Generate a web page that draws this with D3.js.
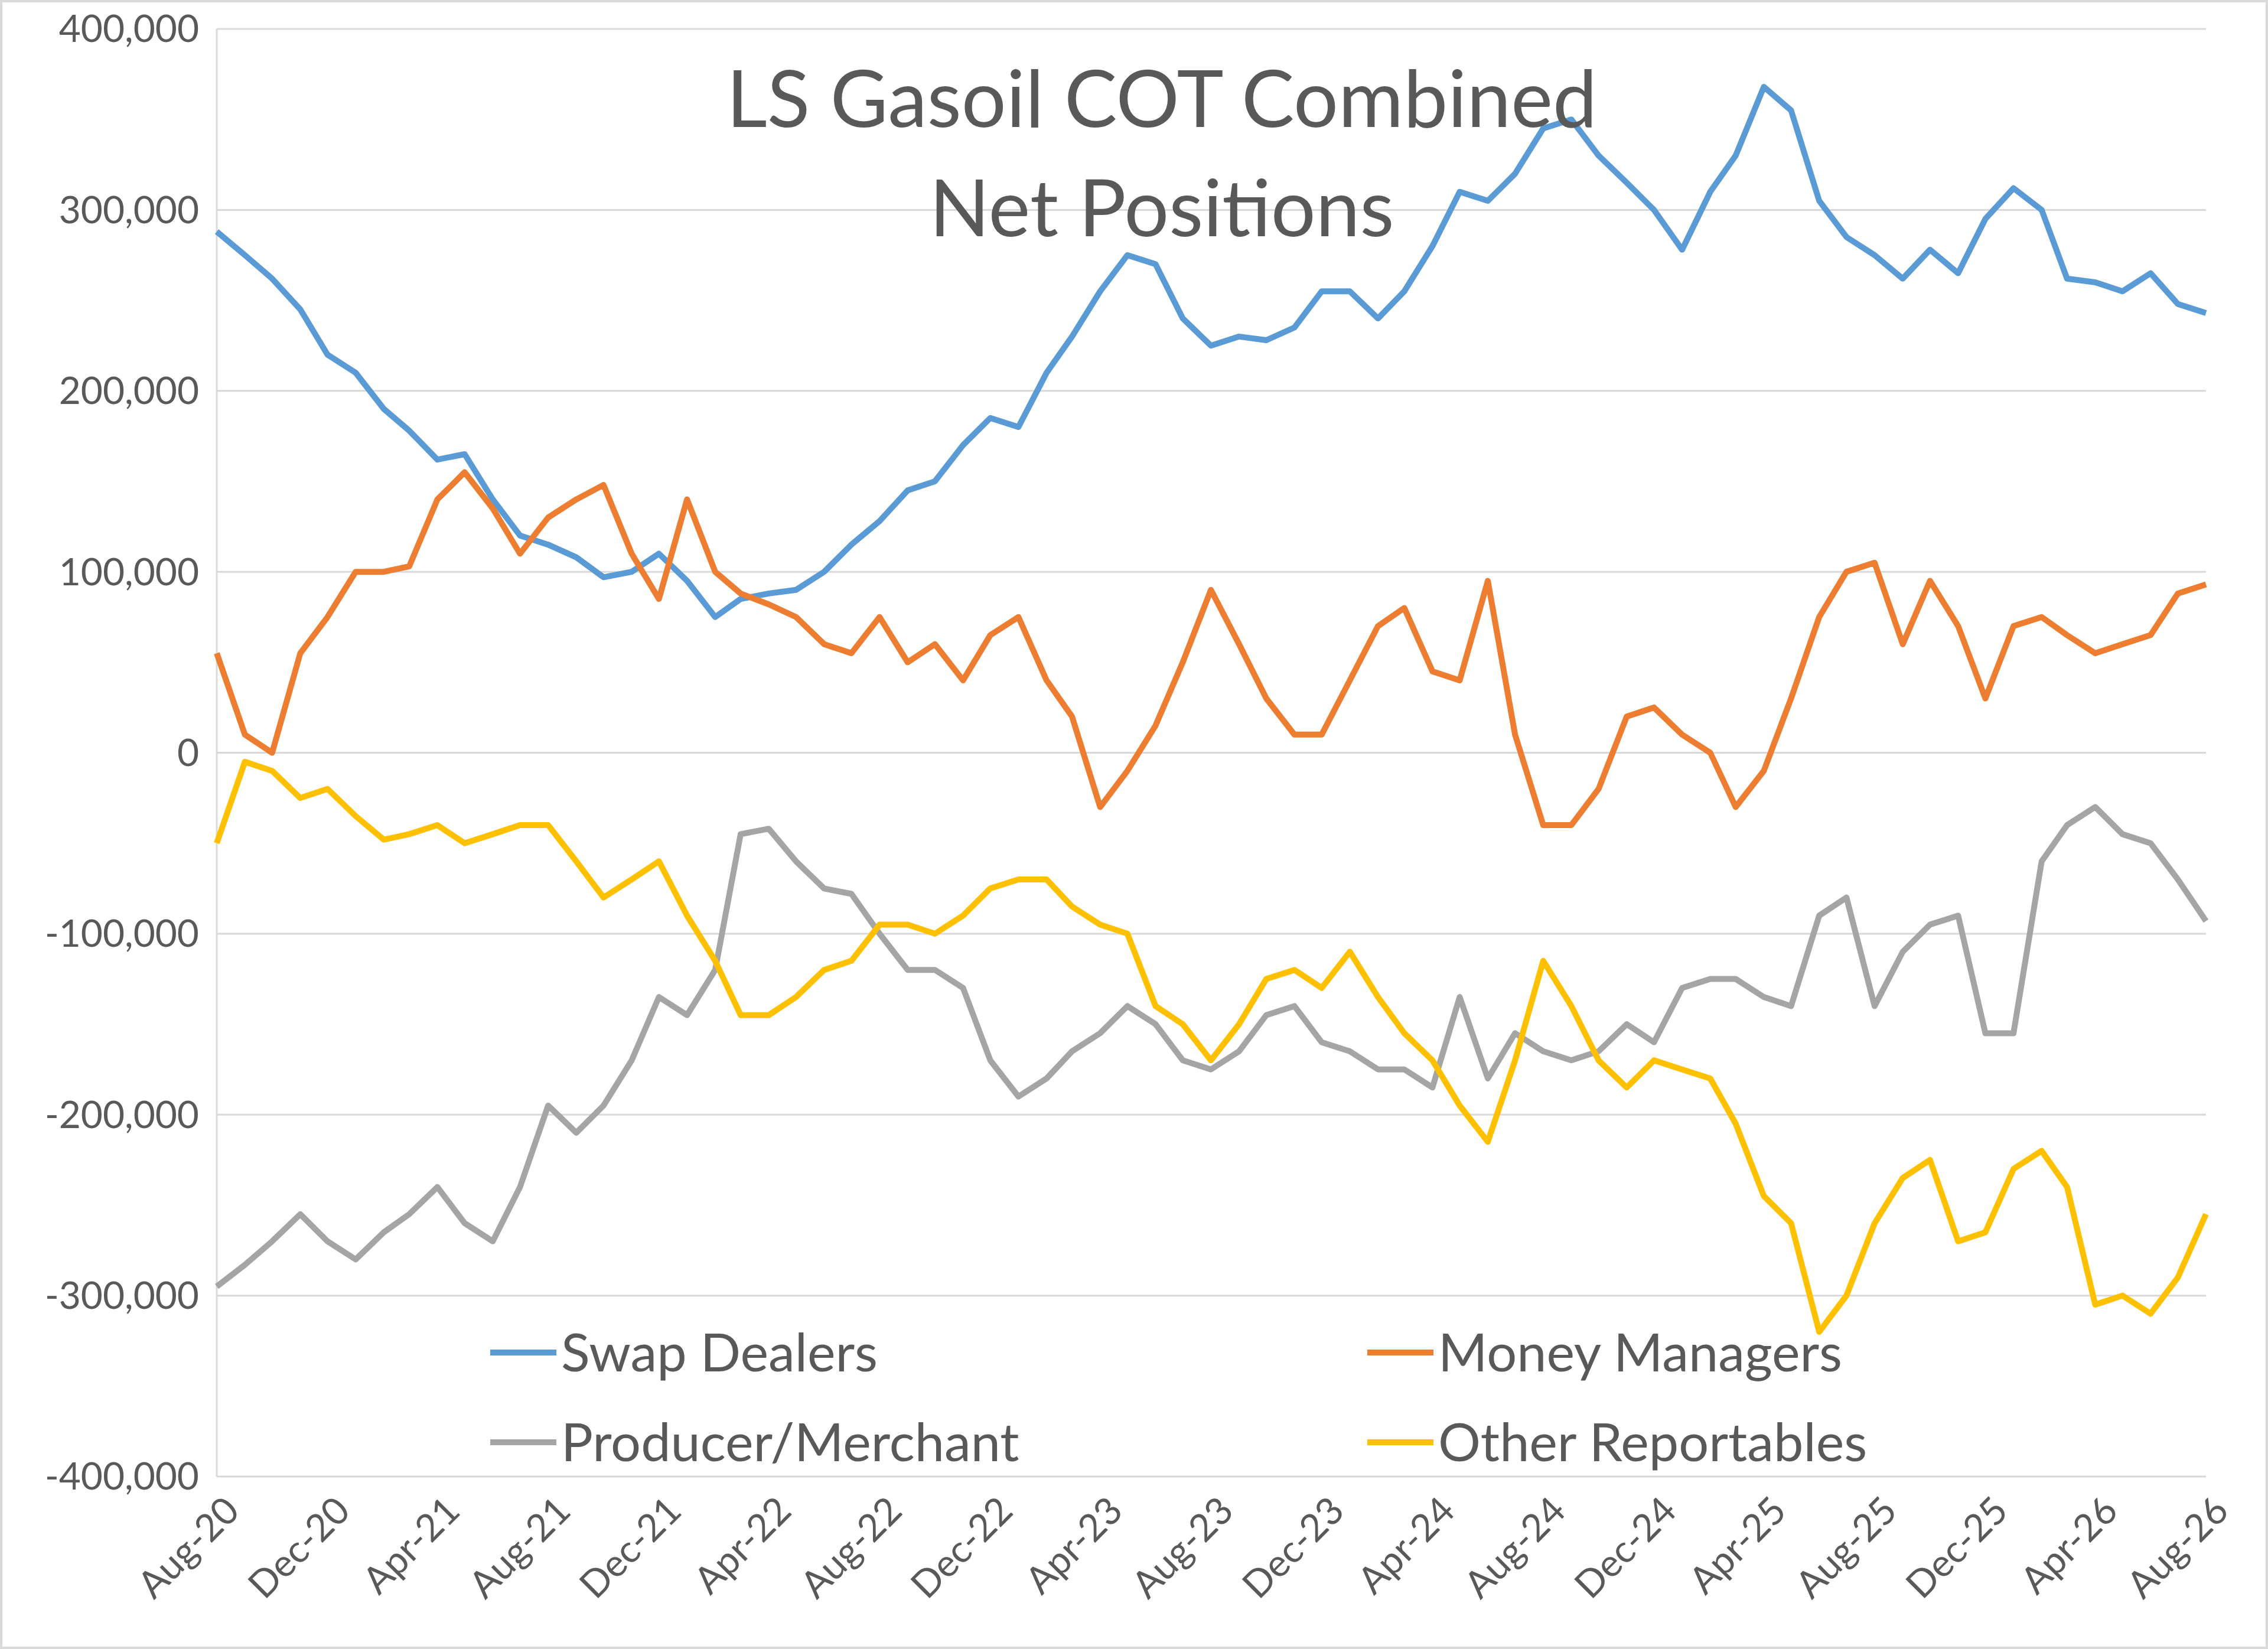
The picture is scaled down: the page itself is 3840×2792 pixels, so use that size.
<!DOCTYPE html>
<html><head><meta charset="utf-8">
<script src="https://cdn.jsdelivr.net/npm/d3@7"></script>
<style>body{margin:0;background:#fff}svg{display:block}</style>
</head><body>
<script>
const startMonth = "2020-08";
const swapDealers = [288,275,262,245,220,210,190,178,162,165,140,120,115,108,97,100,110,95,75,85,88,90,100,115,128,145,150,170,185,180,210,230,255,275,270,240,225,230,228,235,255,255,240,255,280,310,305,320,345,350,330,315,300,278,310,330,368,355,305,285,275,262,278,265,295,312,300,262,260,255,265,248,243];
const moneyManagers = [55,10,0,55,75,100,100,103,140,155,135,110,130,140,148,110,85,140,100,88,82,75,60,55,75,50,60,40,65,75,40,20,-30,-10,15,50,90,60,30,10,10,40,70,80,45,40,95,10,-40,-40,-20,20,25,10,0,-30,-10,30,75,100,105,60,95,70,30,70,75,65,55,60,65,88,93];
const producerMerchant = [-295,-283,-270,-255,-270,-280,-265,-255,-240,-260,-270,-240,-195,-210,-195,-170,-135,-145,-120,-45,-42,-60,-75,-78,-100,-120,-120,-130,-170,-190,-180,-165,-155,-140,-150,-170,-175,-165,-145,-140,-160,-165,-175,-175,-185,-135,-180,-155,-165,-170,-165,-150,-160,-130,-125,-125,-135,-140,-90,-80,-140,-110,-95,-90,-155,-155,-60,-40,-30,-45,-50,-70,-93];
const otherReportables = [-50,-5,-10,-25,-20,-35,-48,-45,-40,-50,-45,-40,-40,-60,-80,-70,-60,-90,-115,-145,-145,-135,-120,-115,-95,-95,-100,-90,-75,-70,-70,-85,-95,-100,-140,-150,-170,-150,-125,-120,-130,-110,-135,-155,-170,-195,-215,-170,-115,-140,-170,-185,-170,-175,-180,-205,-245,-260,-320,-300,-260,-235,-225,-270,-265,-230,-220,-240,-305,-300,-310,-290,-255];
const yTicks = [400000,300000,200000,100000,0,-100000,-200000,-300000,-400000];
const xTickLabels = ["Aug-20","Dec-20","Apr-21","Aug-21","Dec-21","Apr-22","Aug-22","Dec-22","Apr-23","Aug-23","Dec-23","Apr-24","Aug-24","Dec-24","Apr-25","Aug-25","Dec-25","Apr-26","Aug-26"];
const seriesNames = ["Swap Dealers","Money Managers","Producer/Merchant","Other Reportables"];
const colors = ["#5b9bd5","#ed7d31","#a5a5a5","#ffc000"];

const W=3840,H=2792, L=367,R=3735,T=49,B=2500;
const svg=d3.select("body").append("svg").attr("width",W).attr("height",H);
svg.append("rect").attr("x",2).attr("y",2).attr("width",W-4).attr("height",H-4).attr("fill","#fff").attr("stroke","#d9d9d9").attr("stroke-width",4);
const font="Lato, 'Open Sans', sans-serif";
const t0=new Date(2020,7,1);
const dates=swapDealers.map((d,i)=>new Date(2020,7+i,1));
const x=d3.scaleTime().domain([t0,new Date(2026,7,1)]).range([L,R]);
const y=d3.scaleLinear().domain([-400000,400000]).range([B,T]);
const fmt=d3.formatLocale({decimal:".",thousands:",",grouping:[3],currency:["",""],minus:"-"}).format(",");
svg.append("g").selectAll("line").data(yTicks).join("line")
 .attr("x1",L).attr("x2",R).attr("y1",d=>y(d)).attr("y2",d=>y(d)).attr("stroke","#d9d9d9").attr("stroke-width",3);
svg.append("g").selectAll("text").data(yTicks).join("text")
 .attr("x",L-30).attr("y",d=>y(d)).attr("dy","0.35em").attr("text-anchor","end")
 .attr("font-family",font).attr("font-size",64).attr("fill","#595959").text(d=>fmt(d));
svg.append("line").attr("x1",L).attr("x2",L).attr("y1",T).attr("y2",B).attr("stroke","#d9d9d9").attr("stroke-width",3);
const xt=xTickLabels.map((s,i)=>new Date(2020,7+4*i,1));
svg.append("g").selectAll("text").data(xt).join("text")
 .attr("transform",(d)=>`translate(${x(d)+10},${B+30}) rotate(-45)`).attr("text-anchor","end").attr("dy","0.7em")
 .attr("font-family",font).attr("font-size",64).attr("fill","#595959").text((d,i)=>xTickLabels[i]);
const line=d3.line().x((d,i)=>x(dates[i])).y(d=>y(d*1000)).curve(d3.curveLinear);
[swapDealers,moneyManagers,producerMerchant,otherReportables].forEach((s,k)=>{
 svg.append("path").datum(s).attr("d",line).attr("fill","none").attr("stroke",colors[k]).attr("stroke-width",10).attr("stroke-linejoin","round");
});
const title=svg.append("text").attr("text-anchor","middle").attr("font-family",font).attr("font-size",134).attr("fill","#595959");
title.append("tspan").attr("x",1967).attr("y",215).text("LS Gasoil COT Combined");
title.append("tspan").attr("x",1967).attr("y",400).text("Net Positions");
const leg=[[830,2290],[2315,2290],[830,2442],[2315,2442]];
seriesNames.forEach((n,k)=>{
 const [lx,ly]=leg[k];
 svg.append("line").attr("x1",lx).attr("x2",lx+112).attr("y1",ly).attr("y2",ly).attr("stroke",colors[k]).attr("stroke-width",10);
 svg.append("text").attr("x",lx+120).attr("y",ly).attr("dy","0.35em").attr("font-family",font).attr("font-size",90).attr("fill","#595959").text(n);
});
</script>
</body></html>
